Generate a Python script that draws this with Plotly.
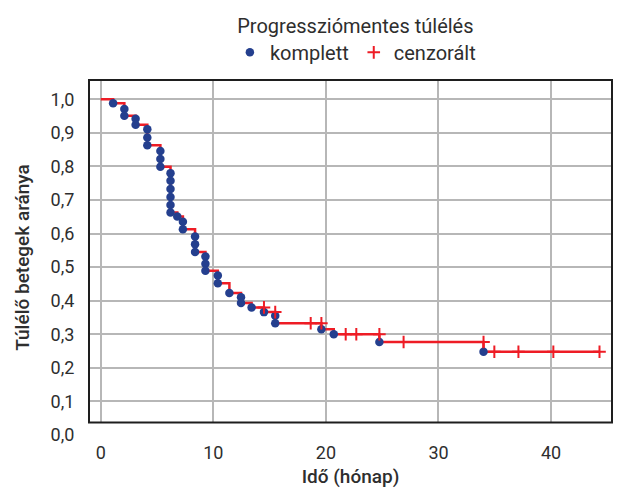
import plotly.graph_objects as go

# Kaplan-Meier step curve (time in months, survival proportion)
step_t = [0, 1.1, 2.1, 3.1, 4.14, 5.3, 6.2, 6.8, 7.3, 8.38, 9.3, 10.4, 11.43,
          12.46, 13.4, 14.5, 15.5, 19.6, 20.7, 24.75, 34.0, 44.3]
step_s = [1.0, 0.988, 0.951, 0.924, 0.863, 0.799, 0.663, 0.651, 0.613, 0.545,
          0.489, 0.452, 0.423, 0.393, 0.380, 0.366, 0.333, 0.315, 0.300, 0.277,
          0.248, 0.248]

# complete (event) markers
event_t = [1.1, 2.1, 2.1, 3.1, 3.1, 4.14, 4.14, 4.14, 5.3, 5.3, 5.3,
           6.2, 6.2, 6.2, 6.2, 6.2, 6.2, 6.8, 7.3, 7.3, 8.38, 8.38, 8.38,
           9.3, 9.3, 9.3, 10.4, 10.4, 11.43, 12.46, 12.46, 13.4, 14.5,
           15.5, 15.5, 19.6, 20.7, 24.75, 34.0]
event_s = [0.988, 0.971, 0.951, 0.942, 0.924, 0.911, 0.886, 0.863, 0.846, 0.822, 0.799,
           0.780, 0.757, 0.733, 0.709, 0.685, 0.663, 0.651, 0.635, 0.613, 0.591, 0.568, 0.545,
           0.532, 0.510, 0.489, 0.475, 0.452, 0.423, 0.410, 0.393, 0.380, 0.366,
           0.355, 0.333, 0.315, 0.300, 0.277, 0.248]

# censored markers
censor_t = [14.5, 15.5, 18.65, 19.6, 21.76, 22.7, 24.75, 26.9, 34.0, 34.96, 37.1, 40.2, 44.3]
censor_s = [0.380, 0.366, 0.333, 0.333, 0.300, 0.300, 0.300, 0.277, 0.277, 0.248, 0.248, 0.248, 0.248]

x_ticks = [0, 10, 20, 30, 40]
y_ticks = [0.0, 0.1, 0.2, 0.3, 0.4, 0.5, 0.6, 0.7, 0.8, 0.9, 1.0]

RED = "#ee1c25"
BLUE = "#243f8e"
TXT = "#2e2e2e"
FONT = "Roboto"

fig = go.Figure()
fig.add_trace(go.Scatter(x=step_t, y=step_s, mode="lines", line=dict(color=RED, width=2.5, shape="hv"),
                         showlegend=False, hoverinfo="skip"))
fig.add_trace(go.Scatter(x=event_t, y=event_s, mode="markers", name="komplett",
                         marker=dict(color=BLUE, size=8.5, symbol="circle", line=dict(width=0))))
fig.add_trace(go.Scatter(x=censor_t, y=censor_s, mode="markers", name="cenzorált",
                         marker=dict(color=RED, size=9, symbol="cross-thin", line=dict(color=RED, width=2))))

y_box_bottom = 0.0375

fig.update_layout(
    width=629, height=488,
    margin=dict(l=89, r=17, t=80, b=53, autoexpand=False),
    paper_bgcolor="white", plot_bgcolor="white",
    separators=", ",
    font=dict(family=FONT, size=18, color=TXT),
    legend=dict(
        orientation="h",
        xref="container", yref="container",
        x=0.565, xanchor="center", y=0.986, yanchor="top",
        title=dict(text="Progressziómentes túlélés", side="top center", font=dict(size=20, color=TXT)),
        font=dict(size=20, color=TXT),
        bgcolor="rgba(0,0,0,0)",
        tracegroupgap=0, itemwidth=30,
    ),
    xaxis=dict(
        range=[-1.04, 45.41], tickvals=x_ticks, showgrid=True, gridcolor="#b7b7b7", gridwidth=1.5,
        zeroline=False, showline=False, ticks="outside", ticklen=1, tickcolor="rgba(0,0,0,0)",
        tickfont=dict(size=18, color=TXT), automargin=False,
        title=dict(text="Idő (hónap)", font=dict(size=19, color=TXT, weight=500)),
    ),
    yaxis=dict(
        range=[0, 1.0574], tickvals=y_ticks, tickformat=".1f", showgrid=True, gridcolor="#b7b7b7",
        gridwidth=1.5, zeroline=False, showline=False, ticks="outside", ticklen=10,
        tickcolor="rgba(0,0,0,0)", tickfont=dict(size=18, color=TXT), automargin=False,
        title=dict(text="Túlélő betegek aránya", font=dict(size=19, color=TXT, weight=500)),
    ),
    shapes=[
        dict(type="rect", xref="paper", yref="y", x0=0, x1=1, y0=-0.01, y1=y_box_bottom,
             fillcolor="white", line=dict(width=0), layer="above"),
        dict(type="rect", xref="paper", yref="paper", x0=0, x1=1, y0=y_box_bottom / 1.0574, y1=1,
             line=dict(color="#1e1e1e", width=2), fillcolor="rgba(0,0,0,0)", layer="above"),
    ],
)

fig.write_html("out.html")
